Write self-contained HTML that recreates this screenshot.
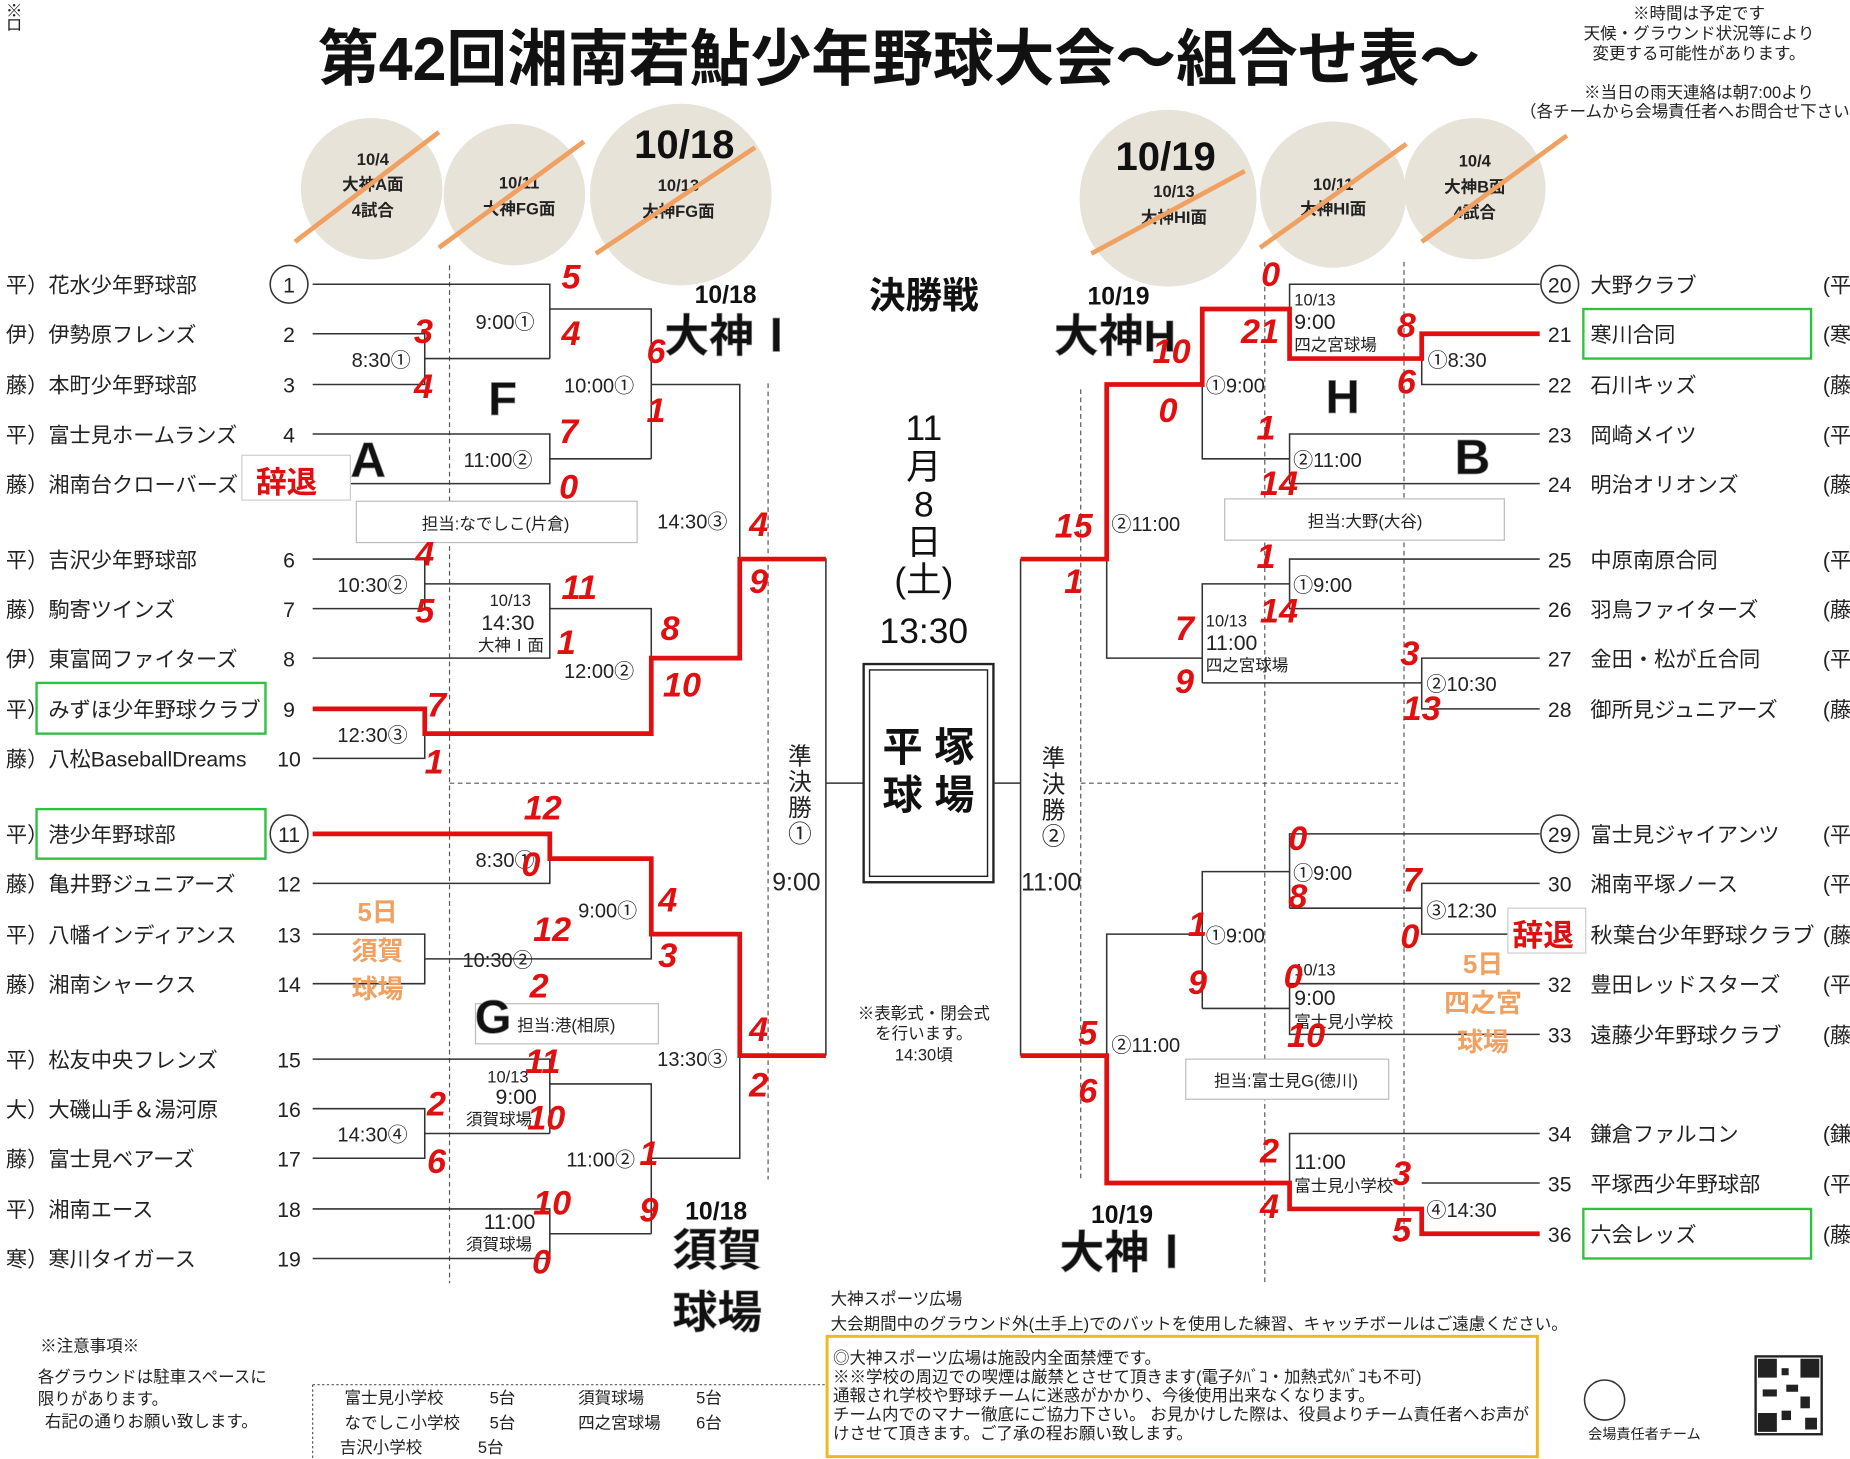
<!DOCTYPE html>
<html><head><meta charset="utf-8"><style>
html,body{margin:0;padding:0;background:#fff}
svg{display:block}
text{font-family:"Liberation Sans","Noto Sans CJK JP",sans-serif}
.t{font-size:18px;fill:#222}
.n{font-size:18px;fill:#222;text-anchor:middle}
.s{font-size:29px;fill:#e01010;font-weight:bold;font-style:italic;text-anchor:middle;dominant-baseline:middle}
.tm{font-size:17px;fill:#222}
.big{font-weight:bold;fill:#111;text-anchor:middle;stroke:#999;stroke-width:0.6}
.sm{font-size:14px;fill:#222}
.or{font-size:22px;fill:#f0a060;font-weight:bold;text-anchor:middle}
</style></head><body>
<svg width="1850" height="1459" viewBox="0 0 1568 1237" preserveAspectRatio="none" xmlns="http://www.w3.org/2000/svg">
<rect width="1568" height="1237" fill="#fff"/>
<text x="5" y="14" class="sm" font-size="12">※</text><text x="5" y="26" class="sm" font-size="10">ロ</text>
<text x="762" y="68" text-anchor="middle" font-size="52" font-weight="bold" fill="#111" textLength="985" lengthAdjust="spacingAndGlyphs">第42回湘南若鮎少年野球大会～組合せ表～</text>
<g class="sm" text-anchor="middle" font-size="13">
<text x="1440" y="16">※時間は予定です</text>
<text x="1440" y="33">天候・グラウンド状況等により</text>
<text x="1440" y="50">変更する可能性があります。</text>
<text x="1440" y="83">※当日の雨天連絡は朝7:00より</text>
<text x="1435" y="99">（各チームから会場責任者へお問合せ下さい）</text>
</g>
<g fill="#e8e3d8">
<circle cx="315" cy="160" r="60"/><circle cx="436" cy="165" r="60"/><circle cx="577" cy="165" r="77"/>
<circle cx="990" cy="168" r="75"/><circle cx="1130" cy="165" r="62"/><circle cx="1250" cy="160" r="60"/>
</g>
<g class="sm" text-anchor="middle" font-size="15" font-weight="bold">
<text x="316" y="140">10/4</text><text x="316" y="161">大神A面</text><text x="316" y="183">4試合</text>
<text x="440" y="160">10/11</text><text x="440" y="182">大神FG面</text>
<text x="575" y="162">10/13</text><text x="575" y="184">大神FG面</text>
<text x="995" y="167">10/13</text><text x="995" y="189">大神HI面</text>
<text x="1130" y="161">10/11</text><text x="1130" y="182">大神HI面</text>
<text x="1250" y="141">10/4</text><text x="1250" y="163">大神B面</text><text x="1250" y="185">4試合</text>
</g>
<text x="580" y="134" font-size="34" font-weight="bold" text-anchor="middle" fill="#111">10/18</text>
<text x="988" y="144" font-size="34" font-weight="bold" text-anchor="middle" fill="#111">10/19</text>
<g stroke="#f0a060" stroke-width="4">
<line x1="250" y1="205" x2="372" y2="112"/><line x1="372" y1="210" x2="495" y2="120"/><line x1="505" y1="215" x2="640" y2="125"/>
<line x1="925" y1="215" x2="1055" y2="145"/><line x1="1068" y1="210" x2="1192" y2="122"/><line x1="1205" y1="205" x2="1328" y2="115"/>
</g>
<g stroke="#555" stroke-width="1" stroke-dasharray="4,3" fill="none">
<line x1="381" y1="225" x2="381" y2="1088"/><line x1="651" y1="325" x2="651" y2="1000"/>
<line x1="916" y1="330" x2="916" y2="1000"/><line x1="1072" y1="222" x2="1072" y2="1088"/><line x1="1190" y1="222" x2="1190" y2="1050"/>
<line x1="381" y1="664" x2="650" y2="664"/><line x1="916" y1="664" x2="1185" y2="664"/>
<line x1="265" y1="1174" x2="700" y2="1174" stroke-dasharray="2,2"/>
<line x1="265" y1="1174" x2="265" y2="1237" stroke-dasharray="2,2"/>
</g>
<g stroke="#333" stroke-width="1.3" fill="none">
<path d="M265 241H466V304M265 283H360V326H265M360 304H466M466 262H552V389M265 368H466V410H265M466 389H552M552 326H627V558"/>
<path d="M265 474H360V516H265M360 495H466V558H265M466 516H552V558M360 601V643H265M627 474H700V895M700 664H732"/>
<path d="M265 749H466V707M265 792H360V834H265M360 813H552V728M265 898H466V961M265 940H360V982H265M360 961H466M466 919H552V1046M265 1025H466V1067H265M466 1046H552M552 982H627V792"/>
<path d="M1305 241H1093V262M1305 326H1205V304M1305 368H1093V410H1305M1093 389H1019V262M1305 474H1093V516H1305M1093 495H1019V579M1305 558H1205V601H1305M1205 579H1019M1019 558H938V474M938 326V474M865 474V895M865 664H843"/>
<path d="M1305 707H1093V770M1305 749H1205V792H1305M1205 770H1093M1093 739H1019V855M1305 834H1093V877H1305M1093 855H1019M1019 792H938V1003M1305 961H1093V1003M1305 1003H1205M938 792V895"/>
</g>
<g stroke="#e01010" stroke-width="4" fill="none">
<path d="M265 601H360V622H552V558H627V474H700"/>
<path d="M265 707H466V728H552V792H627V895H700"/>
<path d="M1305 283H1205V304H1093V262H1019V326H938V474H865"/>
<path d="M1305 1046H1205V1025H1093V1003H938V895H865"/>
</g>
<g class="t">
<text x="5" y="248">平）花水少年野球部</text><text x="5" y="290">伊）伊勢原フレンズ</text><text x="5" y="333">藤）本町少年野球部</text>
<text x="5" y="375">平）富士見ホームランズ</text><text x="5" y="417">藤）湘南台クローバーズ</text>
<text x="5" y="481">平）吉沢少年野球部</text><text x="5" y="523">藤）駒寄ツインズ</text><text x="5" y="565">伊）東富岡ファイターズ</text>
<text x="5" y="608">平）みずほ少年野球クラブ</text><text x="5" y="650">藤）八松BaseballDreams</text>
<text x="5" y="714">平）港少年野球部</text><text x="5" y="756">藤）亀井野ジュニアーズ</text><text x="5" y="799">平）八幡インディアンス</text>
<text x="5" y="841">藤）湘南シャークス</text><text x="5" y="905">平）松友中央フレンズ</text><text x="5" y="947">大）大磯山手＆湯河原</text>
<text x="5" y="989">藤）富士見ベアーズ</text><text x="5" y="1032">平）湘南エース</text><text x="5" y="1074">寒）寒川タイガース</text>
</g>
<g class="n">
<text x="245" y="248">1</text><text x="245" y="290">2</text><text x="245" y="333">3</text><text x="245" y="375">4</text><text x="245" y="417">5</text>
<text x="245" y="481">6</text><text x="245" y="523">7</text><text x="245" y="565">8</text><text x="245" y="608">9</text><text x="245" y="650">10</text>
<text x="245" y="714">11</text><text x="245" y="756">12</text><text x="245" y="799">13</text><text x="245" y="841">14</text><text x="245" y="905">15</text>
<text x="245" y="947">16</text><text x="245" y="989">17</text><text x="245" y="1032">18</text><text x="245" y="1074">19</text>
<text x="1322" y="248">20</text><text x="1322" y="290">21</text><text x="1322" y="333">22</text><text x="1322" y="375">23</text><text x="1322" y="417">24</text>
<text x="1322" y="481">25</text><text x="1322" y="523">26</text><text x="1322" y="565">27</text><text x="1322" y="608">28</text>
<text x="1322" y="714">29</text><text x="1322" y="756">30</text><text x="1322" y="799">31</text><text x="1322" y="841">32</text><text x="1322" y="884">33</text>
<text x="1322" y="968">34</text><text x="1322" y="1010">35</text><text x="1322" y="1053">36</text>
</g>
<g fill="none" stroke="#333" stroke-width="1.3">
<circle cx="245" cy="241" r="16"/><circle cx="245" cy="707" r="16"/><circle cx="1322" cy="241" r="16"/><circle cx="1322" cy="707" r="16"/>
<circle cx="1360" cy="1187" r="17"/>
</g>
<g class="t">
<text x="1348" y="248">大野クラブ</text><text x="1348" y="290">寒川合同</text><text x="1348" y="333">石川キッズ</text>
<text x="1348" y="375">岡崎メイツ</text><text x="1348" y="417">明治オリオンズ</text><text x="1348" y="481">中原南原合同</text>
<text x="1348" y="523">羽鳥ファイターズ</text><text x="1348" y="565">金田・松が丘合同</text><text x="1348" y="608">御所見ジュニアーズ</text>
<text x="1348" y="714">富士見ジャイアンツ</text><text x="1348" y="756">湘南平塚ノース</text>
<text x="1348" y="841">豊田レッドスターズ</text><text x="1348" y="884">遠藤少年野球クラブ</text><text x="1348" y="968">鎌倉ファルコン</text>
<text x="1348" y="1010">平塚西少年野球部</text><text x="1348" y="1053">六会レッズ</text>
<text x="1545" y="248">(平</text><text x="1545" y="290">(寒</text><text x="1545" y="333">(藤</text><text x="1545" y="375">(平</text><text x="1545" y="417">(藤</text>
<text x="1545" y="481">(平</text><text x="1545" y="523">(藤</text><text x="1545" y="565">(平</text><text x="1545" y="608">(藤</text>
<text x="1545" y="714">(平</text><text x="1545" y="756">(平</text><text x="1545" y="799">(藤</text><text x="1545" y="841">(平</text><text x="1545" y="884">(藤</text>
<text x="1545" y="968">(鎌</text><text x="1545" y="1010">(平</text><text x="1545" y="1053">(藤</text>
</g>
<g fill="none" stroke="#2ec040" stroke-width="2">
<rect x="31" y="579" width="194" height="43"/><rect x="31" y="686" width="194" height="42"/>
<rect x="1342" y="262" width="193" height="42"/><rect x="1342" y="1025" width="193" height="42"/>
</g>
<rect x="205" y="386" width="92" height="38" fill="#fff" stroke="#ccc"/>
<text x="243" y="418" font-size="26" font-weight="bold" fill="#e01010" text-anchor="middle">辞退</text>
<rect x="1278" y="770" width="66" height="38" fill="#fff" stroke="#ccc"/>
<text x="1308" y="802" font-size="26" font-weight="bold" fill="#e01010" text-anchor="middle">辞退</text>
<text x="1348" y="799" class="t" textLength="190" lengthAdjust="spacingAndGlyphs">秋葉台少年野球クラブ</text>
<g fill="#fff" stroke="#bbb"><rect x="302" y="425" width="238" height="35"/><rect x="1038" y="423" width="237" height="35"/><rect x="403" y="851" width="155" height="34"/><rect x="1005" y="898" width="172" height="34"/></g>
<g class="sm" font-size="15" text-anchor="middle">
<text x="420" y="449">担当:なでしこ(片倉)</text><text x="1157" y="447">担当:大野(大谷)</text><text x="480" y="874">担当:港(相原)</text><text x="1090" y="921">担当:富士見G(徳川)</text>
</g>
<g class="tm">
<text x="298" y="311">8:30①</text><text x="403" y="279">9:00①</text><text x="478" y="333">10:00①</text><text x="393" y="396">11:00②</text>
<text x="557" y="448">14:30③</text><text x="286" y="502">10:30②</text><text x="478" y="575">12:00②</text><text x="286" y="629">12:30③</text>
<text x="403" y="735">8:30①</text><text x="490" y="778">9:00①</text><text x="392" y="820">10:30②</text><text x="557" y="904">13:30③</text>
<text x="286" y="968">14:30④</text><text x="480" y="989">11:00②</text>
<text x="1210" y="311">①8:30</text><text x="1022" y="333">①9:00</text><text x="1096" y="396">②11:00</text><text x="942" y="450">②11:00</text>
<text x="1096" y="502">①9:00</text><text x="1209" y="586">②10:30</text><text x="1096" y="746">①9:00</text><text x="1209" y="778">③12:30</text>
<text x="1022" y="799">①9:00</text><text x="942" y="892">②11:00</text><text x="1209" y="1032">④14:30</text>
</g>
<g class="sm" font-size="15">
<text x="415" y="514">10/13</text><text x="408" y="534" font-size="18">14:30</text><text x="405" y="552">大神Ⅰ面</text>
<text x="413" y="918">10/13</text><text x="420" y="936" font-size="18">9:00</text><text x="395" y="954">須賀球場</text>
<text x="410" y="1042" font-size="18">11:00</text><text x="395" y="1060">須賀球場</text>
<text x="1097" y="259">10/13</text><text x="1097" y="279" font-size="18">9:00</text><text x="1097" y="297">四之宮球場</text>
<text x="1022" y="531">10/13</text><text x="1022" y="551" font-size="18">11:00</text><text x="1022" y="569">四之宮球場</text>
<text x="1097" y="827">10/13</text><text x="1097" y="852" font-size="18">9:00</text><text x="1097" y="871">富士見小学校</text>
<text x="1097" y="991" font-size="18">11:00</text><text x="1097" y="1010">富士見小学校</text>
</g>
<g class="big">
<text x="312" y="404" font-size="42">A</text><text x="426" y="352" font-size="40">F</text><text x="418" y="876" font-size="40">G</text>
<text x="1138" y="350" font-size="40">H</text><text x="1248" y="402" font-size="42">B</text>
<text x="620" y="298" font-size="38">大神Ⅰ</text><text x="945" y="298" font-size="38">大神H</text>
<text x="608" y="1073" font-size="38">須賀</text><text x="608" y="1126" font-size="38">球場</text><text x="955" y="1075" font-size="38">大神Ⅰ</text>
</g>
<g font-size="21" font-weight="bold" text-anchor="middle" fill="#111">
<text x="615" y="257">10/18</text><text x="948" y="258">10/19</text><text x="607" y="1034">10/18</text><text x="951" y="1037">10/19</text>
</g>
<g class="or"><text x="320" y="781">5日</text><text x="320" y="814">須賀</text><text x="320" y="846">球場</text>
<text x="1257" y="825">5日</text><text x="1257" y="858">四之宮</text><text x="1257" y="891">球場</text></g>
<text x="783" y="261" font-size="31" font-weight="bold" text-anchor="middle" fill="#111">決勝戦</text>
<g font-size="30" text-anchor="middle" fill="#111">
<text x="783" y="373">11</text><text x="783" y="406">月</text><text x="783" y="438">8</text><text x="783" y="470">日</text><text x="783" y="502">(土)</text>
<text x="783" y="545">13:30</text>
</g>
<rect x="732" y="563" width="110" height="185" fill="none" stroke="#222" stroke-width="2"/>
<rect x="737" y="568" width="100" height="175" fill="none" stroke="#222" stroke-width="1.2"/>
<g font-size="34" font-weight="bold" fill="#111" text-anchor="middle"><text x="765" y="645">平</text><text x="809" y="645">塚</text><text x="765" y="686">球</text><text x="809" y="686">場</text></g>
<g font-size="20" text-anchor="middle" fill="#222">
<text x="678" y="648">準</text><text x="678" y="670">決</text><text x="678" y="692">勝</text><text x="678" y="714">①</text>
<text x="893" y="650">準</text><text x="893" y="672">決</text><text x="893" y="694">勝</text><text x="893" y="716">②</text>
<text x="675" y="755" font-size="21">9:00</text><text x="891" y="755" font-size="21">11:00</text>
</g>
<g class="sm" font-size="14" text-anchor="middle"><text x="783" y="864">※表彰式・閉会式</text><text x="783" y="881">を行います。</text><text x="783" y="899">14:30頃</text></g>
<g class="s">
<text x="484" y="237">5</text><text x="484" y="285">4</text><text x="359" y="283">3</text><text x="359" y="330">4</text><text x="556" y="300">6</text><text x="556" y="350">1</text>
<text x="482" y="368">7</text><text x="482" y="415">0</text><text x="643" y="447">4</text><text x="643" y="495">9</text><text x="360" y="472">4</text><text x="360" y="520">5</text>
<text x="491" y="500">11</text><text x="480" y="547">1</text><text x="568" y="535">8</text><text x="578" y="583">10</text><text x="370" y="600">7</text><text x="368" y="648">1</text>
<text x="460" y="687">12</text><text x="450" y="735">0</text><text x="566" y="765">4</text><text x="566" y="812">3</text><text x="468" y="790">12</text><text x="457" y="838">2</text>
<text x="643" y="875">4</text><text x="643" y="922">2</text><text x="460" y="902">11</text><text x="370" y="938">2</text><text x="463" y="950">10</text><text x="370" y="987">6</text>
<text x="550" y="980">1</text><text x="550" y="1028">9</text><text x="468" y="1022">10</text><text x="459" y="1072">0</text>
<text x="1077" y="235">0</text><text x="1068" y="283">21</text><text x="1192" y="278">8</text><text x="1192" y="326">6</text><text x="993" y="300">10</text><text x="990" y="350">0</text>
<text x="1073" y="365">1</text><text x="1084" y="412">14</text><text x="910" y="448">15</text><text x="910" y="495">1</text><text x="1073" y="474">1</text><text x="1084" y="520">14</text>
<text x="1004" y="535">7</text><text x="1004" y="580">9</text><text x="1195" y="556">3</text><text x="1205" y="603">13</text><text x="1100" y="713">0</text><text x="1100" y="762">8</text>
<text x="1197" y="748">7</text><text x="1195" y="796">0</text><text x="1015" y="786">1</text><text x="1015" y="835">9</text><text x="1096" y="830">0</text><text x="1107" y="880">10</text>
<text x="922" y="878">5</text><text x="922" y="927">6</text><text x="1076" y="978">2</text><text x="1188" y="997">3</text><text x="1076" y="1025">4</text><text x="1188" y="1045">5</text>
</g>
<g class="sm" font-size="15">
<text x="34" y="1146">※注意事項※</text>
<text x="32" y="1172">各グラウンドは駐車スペースに</text><text x="32" y="1191">限りがあります。</text><text x="38" y="1210">右記の通りお願い致します。</text>
<text x="292" y="1190">富士見小学校</text><text x="415" y="1190">5台</text><text x="490" y="1190">須賀球場</text><text x="590" y="1190">5台</text>
<text x="292" y="1211">なでしこ小学校</text><text x="415" y="1211">5台</text><text x="490" y="1211">四之宮球場</text><text x="590" y="1211">6台</text>
<text x="288" y="1232">吉沢小学校</text><text x="405" y="1232">5台</text>
<text x="704" y="1106">大神スポーツ広場</text>
<text x="704" y="1127">大会期間中のグラウンド外(土手上)でのバットを使用した練習、キャッチボールはご遠慮ください。</text>
<text x="706" y="1156" font-size="14">◎大神スポーツ広場は施設内全面禁煙です。</text>
<text x="706" y="1172" font-size="14">※※学校の周辺での喫煙は厳禁とさせて頂きます(電子ﾀﾊﾞｺ・加熱式ﾀﾊﾞｺも不可)</text>
<text x="706" y="1188" font-size="14">通報され学校や野球チームに迷惑がかかり、今後使用出来なくなります。</text>
<text x="706" y="1204" font-size="14">チーム内でのマナー徹底にご協力下さい。 お見かけした際は、役員よりチーム責任者へお声が</text>
<text x="706" y="1220" font-size="14">けさせて頂きます。ご了承の程お願い致します。</text>
<text x="1346" y="1220" font-size="12">会場責任者チーム</text>
</g>
<rect x="701" y="1133" width="602" height="102" fill="none" stroke="#f0b820" stroke-width="2.5"/>
<rect x="1488" y="1150" width="56" height="66" fill="#fff" stroke="#222" stroke-width="2"/>
<g fill="#222">
<rect x="1490" y="1152" width="16" height="16"/><rect x="1526" y="1152" width="16" height="16"/><rect x="1490" y="1198" width="16" height="16"/>
<rect x="1510" y="1160" width="6" height="6"/><rect x="1514" y="1174" width="10" height="6"/><rect x="1526" y="1184" width="8" height="10"/>
<rect x="1510" y="1196" width="8" height="8"/><rect x="1530" y="1202" width="10" height="10"/><rect x="1494" y="1178" width="12" height="6"/>
</g>
</svg>
</body></html>
